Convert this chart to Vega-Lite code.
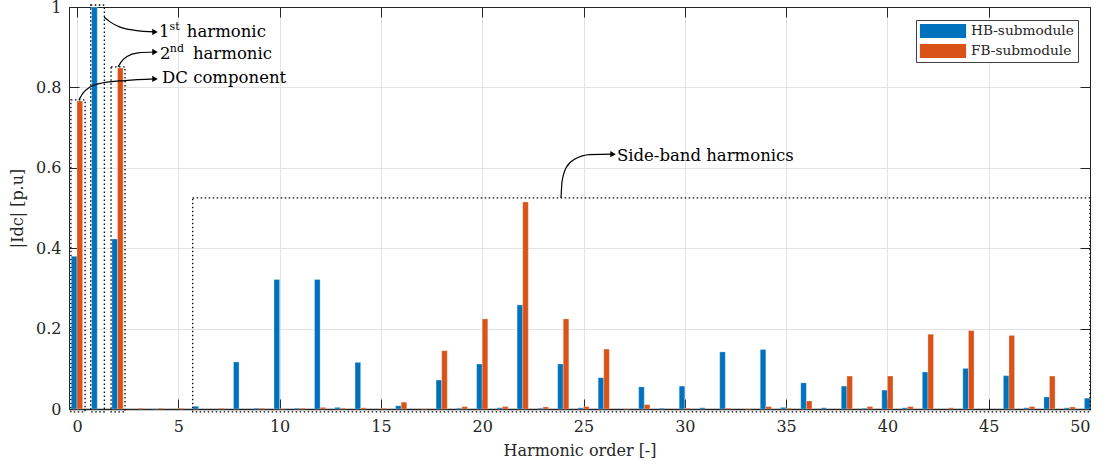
{
  "$schema": "https://vega.github.io/schema/vega-lite/v6.json",
  "width": 1021,
  "height": 402,
  "autosize": {"type": "none"},
  "padding": {"left": 69, "top": 7, "right": 17, "bottom": 62},
  "background": "white",
  "config": {
    "font": "DejaVu Serif",
    "view": {"stroke": "#262626", "strokeWidth": 1},
    "scale": {"continuousPadding": 0},
    "axis": {
      "labelFont": "DejaVu Serif", "labelFontSize": 16, "labelColor": "#262626",
      "titleFont": "DejaVu Serif", "titleFontSize": 16, "titleFontWeight": "normal", "titleColor": "#262626",
      "domainColor": "#262626", "tickColor": "#262626", "gridColor": "#e3e3e3", "tickSize": -10
    }
  },
  "datasets": {
    "bars": [
      {"order": 0, "series": "HB-submodule", "value": 0.380}, {"order": 0, "series": "FB-submodule", "value": 0.766},
      {"order": 1, "series": "HB-submodule", "value": 1.000},
      {"order": 2, "series": "HB-submodule", "value": 0.423}, {"order": 2, "series": "FB-submodule", "value": 0.848},
      {"order": 3, "series": "FB-submodule", "value": 0.002},
      {"order": 4, "series": "HB-submodule", "value": 0.001}, {"order": 4, "series": "FB-submodule", "value": 0.002},
      {"order": 5, "series": "FB-submodule", "value": 0.002},
      {"order": 6, "series": "HB-submodule", "value": 0.007},
      {"order": 7, "series": "FB-submodule", "value": 0.002},
      {"order": 8, "series": "HB-submodule", "value": 0.117},
      {"order": 9, "series": "HB-submodule", "value": 0.002}, {"order": 9, "series": "FB-submodule", "value": 0.002},
      {"order": 10, "series": "HB-submodule", "value": 0.322}, {"order": 10, "series": "FB-submodule", "value": 0.001},
      {"order": 11, "series": "HB-submodule", "value": 0.002}, {"order": 11, "series": "FB-submodule", "value": 0.002},
      {"order": 12, "series": "HB-submodule", "value": 0.322}, {"order": 12, "series": "FB-submodule", "value": 0.004},
      {"order": 13, "series": "HB-submodule", "value": 0.004}, {"order": 13, "series": "FB-submodule", "value": 0.002},
      {"order": 14, "series": "HB-submodule", "value": 0.116}, {"order": 14, "series": "FB-submodule", "value": 0.003},
      {"order": 15, "series": "FB-submodule", "value": 0.002},
      {"order": 16, "series": "HB-submodule", "value": 0.008}, {"order": 16, "series": "FB-submodule", "value": 0.017},
      {"order": 17, "series": "FB-submodule", "value": 0.001},
      {"order": 18, "series": "HB-submodule", "value": 0.072}, {"order": 18, "series": "FB-submodule", "value": 0.145},
      {"order": 19, "series": "HB-submodule", "value": 0.002}, {"order": 19, "series": "FB-submodule", "value": 0.006},
      {"order": 20, "series": "HB-submodule", "value": 0.112}, {"order": 20, "series": "FB-submodule", "value": 0.224},
      {"order": 21, "series": "HB-submodule", "value": 0.003}, {"order": 21, "series": "FB-submodule", "value": 0.006},
      {"order": 22, "series": "HB-submodule", "value": 0.259}, {"order": 22, "series": "FB-submodule", "value": 0.515},
      {"order": 23, "series": "HB-submodule", "value": 0.002}, {"order": 23, "series": "FB-submodule", "value": 0.005},
      {"order": 24, "series": "HB-submodule", "value": 0.112}, {"order": 24, "series": "FB-submodule", "value": 0.224},
      {"order": 25, "series": "HB-submodule", "value": 0.003}, {"order": 25, "series": "FB-submodule", "value": 0.006},
      {"order": 26, "series": "HB-submodule", "value": 0.078}, {"order": 26, "series": "FB-submodule", "value": 0.149},
      {"order": 27, "series": "FB-submodule", "value": 0.001},
      {"order": 28, "series": "HB-submodule", "value": 0.055}, {"order": 28, "series": "FB-submodule", "value": 0.011},
      {"order": 29, "series": "HB-submodule", "value": 0.002},
      {"order": 30, "series": "HB-submodule", "value": 0.057}, {"order": 30, "series": "FB-submodule", "value": 0.002},
      {"order": 31, "series": "HB-submodule", "value": 0.003},
      {"order": 32, "series": "HB-submodule", "value": 0.142}, {"order": 32, "series": "FB-submodule", "value": 0.002},
      {"order": 33, "series": "FB-submodule", "value": 0.001},
      {"order": 34, "series": "HB-submodule", "value": 0.148}, {"order": 34, "series": "FB-submodule", "value": 0.006},
      {"order": 35, "series": "HB-submodule", "value": 0.004}, {"order": 35, "series": "FB-submodule", "value": 0.002},
      {"order": 36, "series": "HB-submodule", "value": 0.065}, {"order": 36, "series": "FB-submodule", "value": 0.020},
      {"order": 37, "series": "HB-submodule", "value": 0.003},
      {"order": 38, "series": "HB-submodule", "value": 0.057}, {"order": 38, "series": "FB-submodule", "value": 0.082},
      {"order": 39, "series": "HB-submodule", "value": 0.002}, {"order": 39, "series": "FB-submodule", "value": 0.006},
      {"order": 40, "series": "HB-submodule", "value": 0.047}, {"order": 40, "series": "FB-submodule", "value": 0.082},
      {"order": 41, "series": "HB-submodule", "value": 0.003}, {"order": 41, "series": "FB-submodule", "value": 0.006},
      {"order": 42, "series": "HB-submodule", "value": 0.092}, {"order": 42, "series": "FB-submodule", "value": 0.186},
      {"order": 43, "series": "FB-submodule", "value": 0.003},
      {"order": 44, "series": "HB-submodule", "value": 0.101}, {"order": 44, "series": "FB-submodule", "value": 0.195},
      {"order": 46, "series": "HB-submodule", "value": 0.083}, {"order": 46, "series": "FB-submodule", "value": 0.183},
      {"order": 47, "series": "HB-submodule", "value": 0.003}, {"order": 47, "series": "FB-submodule", "value": 0.006},
      {"order": 48, "series": "HB-submodule", "value": 0.030}, {"order": 48, "series": "FB-submodule", "value": 0.082},
      {"order": 49, "series": "HB-submodule", "value": 0.003}, {"order": 49, "series": "FB-submodule", "value": 0.005},
      {"order": 50, "series": "HB-submodule", "value": 0.027}
    ],
    "boxes": [
      {"name": "DC", "x1": -0.30, "x2": 0.40, "y1": -0.007, "y2": 0.769},
      {"name": "1st", "x1": 0.68, "x2": 1.35, "y1": -0.007, "y2": 1.005},
      {"name": "2nd", "x1": 1.68, "x2": 2.37, "y1": -0.007, "y2": 0.851},
      {"name": "side", "x1": 5.71, "x2": 50.0, "y1": -0.007, "y2": 0.525}
    ],
    "arrows": [
      {"arrow": "1st", "i": 0, "x": 1.333, "y": 0.975},
      {"arrow": "1st", "i": 1, "x": 1.629, "y": 0.963},
      {"arrow": "1st", "i": 2, "x": 2.122, "y": 0.950},
      {"arrow": "1st", "i": 3, "x": 2.863, "y": 0.942},
      {"arrow": "1st", "i": 4, "x": 3.850, "y": 0.938},
      {"arrow": "2nd", "i": 0, "x": 2.024, "y": 0.851},
      {"arrow": "2nd", "i": 1, "x": 2.172, "y": 0.863},
      {"arrow": "2nd", "i": 2, "x": 2.468, "y": 0.877},
      {"arrow": "2nd", "i": 3, "x": 3.011, "y": 0.886},
      {"arrow": "2nd", "i": 4, "x": 3.850, "y": 0.888},
      {"arrow": "DC", "i": 0, "x": 0.099, "y": 0.769},
      {"arrow": "DC", "i": 1, "x": 0.296, "y": 0.786},
      {"arrow": "DC", "i": 2, "x": 0.642, "y": 0.801},
      {"arrow": "DC", "i": 3, "x": 1.234, "y": 0.811},
      {"arrow": "DC", "i": 4, "x": 2.369, "y": 0.817},
      {"arrow": "DC", "i": 5, "x": 3.850, "y": 0.821},
      {"arrow": "side", "i": 0, "x": 23.89, "y": 0.525},
      {"arrow": "side", "i": 1, "x": 23.94, "y": 0.565},
      {"arrow": "side", "i": 2, "x": 24.14, "y": 0.600},
      {"arrow": "side", "i": 3, "x": 24.58, "y": 0.622},
      {"arrow": "side", "i": 4, "x": 25.32, "y": 0.633},
      {"arrow": "side", "i": 5, "x": 26.46, "y": 0.634}
    ],
    "heads": [
      {"arrow": "1st", "x": 3.850, "y": 0.938},
      {"arrow": "2nd", "x": 3.850, "y": 0.888},
      {"arrow": "DC", "x": 3.850, "y": 0.821},
      {"arrow": "side", "x": 26.46, "y": 0.634}
    ],
    "labels": [
      {"text": "1", "x": 4.05, "y": 0.9254},
      {"text": "harmonic", "x": 5.42, "y": 0.9254},
      {"text": "2", "x": 4.10, "y": 0.8706},
      {"text": "harmonic", "x": 5.72, "y": 0.8706},
      {"text": "DC component", "x": 4.20, "y": 0.811},
      {"text": "Side-band harmonics", "x": 26.65, "y": 0.617}
    ],
    "supers": [
      {"text": "st", "x": 4.57, "y": 0.943},
      {"text": "nd", "x": 4.58, "y": 0.888}
    ]
  },
  "layer": [
    {
      "data": {"name": "bars"},
      "transform": [{"filter": "datum.series === 'HB-submodule'"}],
      "mark": {"type": "bar", "orient": "vertical", "size": 5.6, "xOffset": -2.8, "stroke": "white", "strokeOpacity": 0.35, "strokeWidth": 0.8},
      "encoding": {
        "x": {"field": "order", "type": "quantitative", "scale": {"domain": [-0.395, 50], "nice": false, "zero": false, "padding": 0},
          "axis": {"values": [0, 5, 10, 15, 20, 25, 30, 35, 40, 45, 50], "title": "Harmonic order [-]", "grid": true, "labelPadding": 19, "titlePadding": 8, "domainWidth": 1.6}},
        "y": {"field": "value", "type": "quantitative", "stack": null, "scale": {"domain": [0, 1], "nice": false},
          "axis": {"values": [0, 0.2, 0.4, 0.6, 0.8, 1], "format": "~g", "title": "|Idc| [p.u]", "grid": true, "labelPadding": 18, "titlePadding": 10}},
        "color": {"field": "series", "type": "nominal",
          "scale": {"domain": ["HB-submodule", "FB-submodule"], "range": ["#0072BD", "#D95319"]},
          "legend": {"title": null, "orient": "top-right", "offset": 12.5, "padding": 4, "strokeColor": "#404040", "fillColor": "white",
            "labelFont": "DejaVu Serif", "labelFontSize": 13.7, "labelColor": "#262626",
            "symbolType": "M-3.3,-1H3.3V1H-3.3Z", "symbolSize": 196, "symbolStrokeWidth": 0, "symbolOpacity": 1,
            "rowPadding": 6, "labelOffset": 21, "symbolOffset": 16}}
      }
    },
    {
      "data": {"name": "bars"},
      "transform": [{"filter": "datum.series === 'FB-submodule'"}],
      "mark": {"type": "bar", "orient": "vertical", "size": 5.6, "xOffset": 2.8, "stroke": "white", "strokeOpacity": 0.35, "strokeWidth": 0.8},
      "encoding": {
        "x": {"field": "order", "type": "quantitative", "scale": {"domain": [-0.395, 50], "nice": false, "zero": false, "padding": 0}, "axis": null},
        "y": {"field": "value", "type": "quantitative", "stack": null, "scale": {"domain": [0, 1], "nice": false}, "axis": null},
        "color": {"field": "series", "type": "nominal", "scale": {"domain": ["HB-submodule", "FB-submodule"], "range": ["#0072BD", "#D95319"]}}
      }
    },
    {
      "data": {"name": "boxes"},
      "mark": {"type": "rect", "filled": false, "stroke": "black", "strokeDash": [1.5, 2.5], "strokeWidth": 1.3},
      "encoding": {
        "x": {"field": "x1", "type": "quantitative", "scale": {"domain": [-0.395, 50], "nice": false, "zero": false, "padding": 0},
          "axis": {"orient": "top", "values": [0, 5, 10, 15, 20, 25, 30, 35, 40, 45, 50], "labels": false, "title": null, "grid": false}},
        "x2": {"field": "x2"},
        "y": {"field": "y1", "type": "quantitative", "scale": {"domain": [0, 1], "nice": false},
          "axis": {"orient": "right", "values": [0, 0.2, 0.4, 0.6, 0.8, 1], "labels": false, "title": null, "grid": false}},
        "y2": {"field": "y2"}
      }
    },
    {
      "data": {"name": "arrows"},
      "mark": {"type": "line", "interpolate": "monotone", "color": "black", "strokeWidth": 1.2},
      "encoding": {
        "x": {"field": "x", "type": "quantitative", "scale": {"domain": [-0.395, 50], "nice": false, "zero": false, "padding": 0}, "axis": null},
        "y": {"field": "y", "type": "quantitative", "scale": {"domain": [0, 1], "nice": false}, "axis": null},
        "detail": {"field": "arrow"},
        "order": {"field": "i", "type": "quantitative"}
      }
    },
    {
      "data": {"name": "heads"},
      "mark": {"type": "point", "shape": "triangle-right", "filled": true, "color": "black", "size": 40, "opacity": 1},
      "encoding": {
        "x": {"field": "x", "type": "quantitative", "scale": {"domain": [-0.395, 50], "nice": false, "zero": false, "padding": 0}, "axis": null},
        "y": {"field": "y", "type": "quantitative", "scale": {"domain": [0, 1], "nice": false}, "axis": null}
      }
    },
    {
      "data": {"name": "labels"},
      "mark": {"type": "text", "align": "left", "baseline": "alphabetic", "font": "DejaVu Serif", "fontSize": 16.5, "color": "black"},
      "encoding": {
        "x": {"field": "x", "type": "quantitative", "scale": {"domain": [-0.395, 50], "nice": false, "zero": false, "padding": 0}, "axis": null},
        "y": {"field": "y", "type": "quantitative", "scale": {"domain": [0, 1], "nice": false}, "axis": null},
        "text": {"field": "text"}
      }
    },
    {
      "data": {"name": "supers"},
      "mark": {"type": "text", "align": "left", "baseline": "alphabetic", "font": "DejaVu Serif", "fontSize": 11, "color": "black"},
      "encoding": {
        "x": {"field": "x", "type": "quantitative", "scale": {"domain": [-0.395, 50], "nice": false, "zero": false, "padding": 0}, "axis": null},
        "y": {"field": "y", "type": "quantitative", "scale": {"domain": [0, 1], "nice": false}, "axis": null},
        "text": {"field": "text"}
      }
    }
  ],
  "resolve": {"axis": {"x": "independent", "y": "independent"}}
}
